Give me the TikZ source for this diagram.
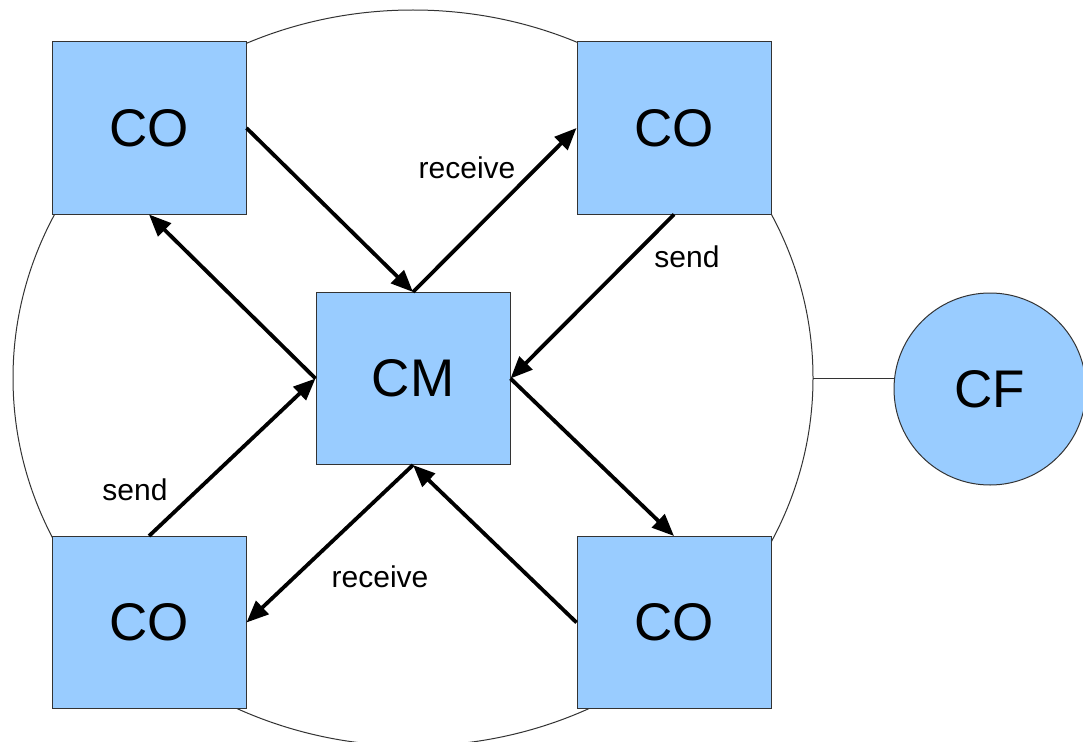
\documentclass[tikz,border=0pt]{standalone}
\usepackage{fontspec}
\setmainfont{Liberation Sans}
\usetikzlibrary{arrows.meta}
\definecolor{boxfill}{HTML}{99CCFF}
\definecolor{edge}{HTML}{333333}
\tikzset{
  cobox/.style={draw=edge, line width=1pt, fill=boxfill, minimum width=194pt, minimum height=172pt, inner sep=0pt, font=\fontsize{53}{60}\selectfont},
  cfcirc/.style={circle, draw=edge, line width=1pt, fill=boxfill, minimum size=192pt, inner sep=0pt, font=\fontsize{53}{60}\selectfont},
  flow/.style={line width=3.8pt, -{Triangle[length=22pt,width=18pt]}},
  lbl/.style={font=\fontsize{30}{34}\selectfont, inner sep=0pt},
  thin line/.style={draw=edge, line width=1pt}
}
\begin{document}
\begin{tikzpicture}[x=1pt,y=-1pt]
\clip (0,0) rectangle (1083,741);
\fill[white] (0,0) rectangle (1083,741);
% big ellipse
\draw[thin line] (413,378) ellipse [x radius=400, y radius=368];
\coordinate (er) at (813,378);
% nodes
\node[cobox] (tl) at (149,128) {CO};
\node[cobox] (tr) at (674,128) {CO};
\node[cobox] (cm) at (413,378.5) {CM};
\node[cobox] (bl) at (149,622.5) {CO};
\node[cobox] (br) at (674,622.5) {CO};
\node[cfcirc] (cf) at (990,389) {CF};
\draw[thin line] (er) -- (er -| cf.west);
% arrows
\draw[flow] (tl.east) -- (cm.north);
\draw[flow] (cm.north) -- (tr.west);
\draw[flow] (tr.south) -- (cm.east);
\draw[flow] (cm.east) -- (br.north);
\draw[flow] (br.west) -- (cm.south);
\draw[flow] (cm.south) -- (bl.east);
\draw[flow] (bl.north) -- (cm.west);
\draw[flow] (cm.west) -- (tl.south);
% labels
\node[lbl] (l1) at (467,168) {receive};
\node[lbl] (l2) at (687,257) {send};
\node[lbl] (l3) at (135,490) {send};
\node[lbl] (l4) at (380,577) {receive};
\end{tikzpicture}
\end{document}
